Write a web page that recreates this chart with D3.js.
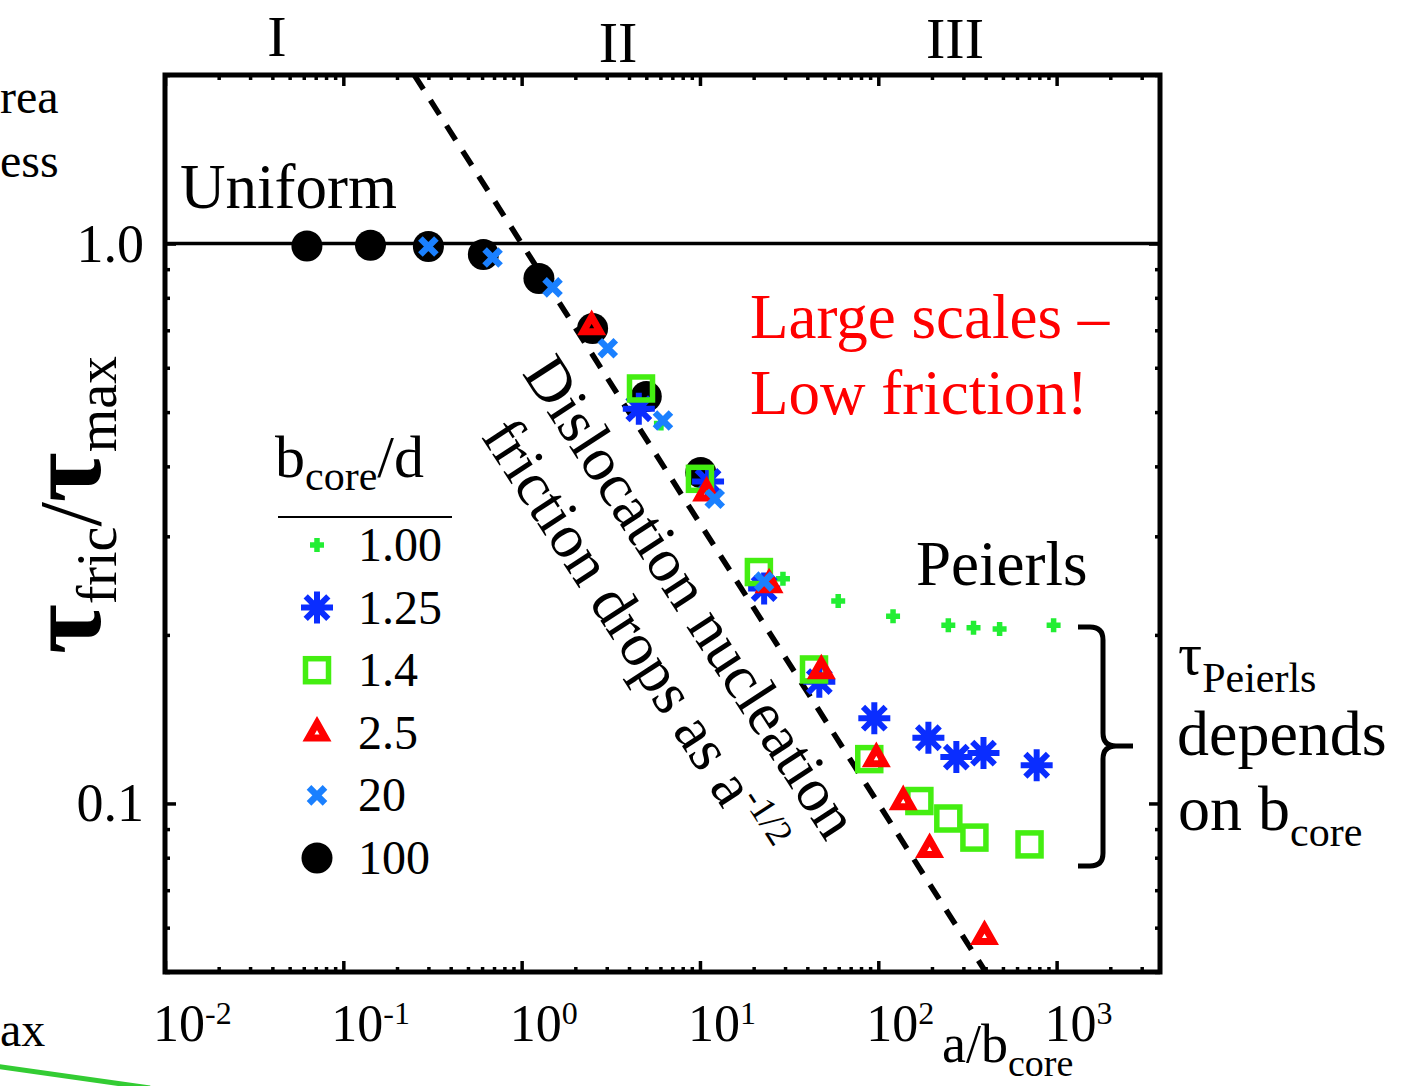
<!DOCTYPE html>
<html><head><meta charset="utf-8">
<script src="https://cdn.jsdelivr.net/npm/d3@7"></script>
<style>
body{margin:0;background:#fff}
svg{display:block}
text{font-family:"Liberation Serif","Times New Roman",serif;fill:#000}
</style>
</head><body>
<svg id="c" width="1403" height="1086"></svg>
<script>
// ---------- data ----------
const legendLabels = ["1.00", "1.25", "1.4", "2.5", "20", "100"];

const a_100 = [0.0625, 0.142, 0.30, 0.61, 1.25, 2.5, 5.0, 10.1];
const t_100 = [0.99, 0.993, 0.988, 0.956, 0.866, 0.705, 0.533, 0.390];

const a_20 = [0.30, 0.687, 1.49, 3.04, 6.2, 12.1, 22.9];
const t_20 = [0.988, 0.944, 0.835, 0.650, 0.483, 0.350, 0.249];

const a_100pct = [6.04, 29.2, 59.6, 121, 247, 342, 479, 962];        // b_core/d = 1.00
const t_100pct = [0.477, 0.252, 0.230, 0.216, 0.208, 0.206, 0.205, 0.208];

const a_125 = [4.54, 11.1, 22.9, 46.7, 95, 191, 274, 389, 773];
const t_125 = [0.507, 0.376, 0.242, 0.165, 0.142, 0.131, 0.121, 0.123, 0.117];

const a_14 = [4.67, 10, 21.4, 43.6, 89, 170, 247, 346, 705];
const t_14 = [0.551, 0.380, 0.259, 0.1735, 0.120, 0.101, 0.094, 0.0869, 0.0845];

const a_25 = [2.47, 10.9, 24.4, 47.9, 97.5, 138, 194, 394];
const t_25 = [0.711, 0.359, 0.246, 0.1727, 0.1203, 0.1008, 0.0828, 0.0579];

// guide lines
const guideA = [0.25, 400];      // dislocation nucleation, slope -1/2
const guideT = [2.0, 0.05];
const uniformLevel = 1.0;

// ticks
const xMajor = [0.01, 0.1, 1, 10, 100, 1000];
const xExp = ["-2", "-1", "0", "1", "2", "3"];
const yMajor = [1.0, 0.1];
const yMajorLabels = ["1.0", "0.1"];

// ---------- setup ----------
const svg = d3.select("#c");
svg.append("rect").attr("width",1403).attr("height",1086).attr("fill","#fff");

const L = 165, R = 1160, T = 75, B = 972;
const x = d3.scaleLog().domain([0.01, 3800]).range([L, R]);
const y = d3.scaleLog().domain([0.05, 2.0]).range([B, T]);

const COL = {plus:"#22ee33", ast:"#0a2dff", sq:"#44ee11", tri:"#ff0000", x:"#1a80ff", dot:"#000"};

// ---------- axes (inward ticks on all sides) ----------
const xMinor = x.ticks().filter(v => !xMajor.some(m => Math.abs(m - v) / m < 1e-6));
const yMinor = y.ticks().filter(v => !yMajor.some(m => Math.abs(m - v) / m < 1e-6));

function tickAxis(gen, tr, vals, size) {
  const g = svg.append("g").attr("transform", tr)
    .call(gen.tickValues(vals).tickSize(size).tickSizeOuter(0).tickFormat(""));
  g.select(".domain").remove();
  g.selectAll(".tick line").attr("stroke","#000").attr("stroke-width",3.5);
  return g;
}
tickAxis(d3.axisBottom(x), `translate(0,${B})`, xMinor, -5);
tickAxis(d3.axisBottom(x), `translate(0,${B})`, xMajor, -11);
tickAxis(d3.axisTop(x), `translate(0,${T})`, xMinor, -5);
tickAxis(d3.axisTop(x), `translate(0,${T})`, xMajor, -11);
tickAxis(d3.axisLeft(y), `translate(${L},0)`, yMinor, -5);
tickAxis(d3.axisLeft(y), `translate(${L},0)`, yMajor, -11);
tickAxis(d3.axisRight(y), `translate(${R},0)`, yMinor, -5);
tickAxis(d3.axisRight(y), `translate(${R},0)`, yMajor, -11);

// frame
svg.append("rect").attr("x",L).attr("y",T).attr("width",R-L).attr("height",B-T)
  .attr("fill","none").attr("stroke","#000").attr("stroke-width",5);

// x tick labels 10^n
xMajor.forEach((v,i) => {
  const t = svg.append("text").attr("x", x(v) - 12).attr("y", 1041)
    .attr("font-size", 52);
  t.append("tspan").text("10");
  t.append("tspan").attr("dy", -17).attr("font-size", 32).text(xExp[i]);
});
// x axis title
const xt = svg.append("text").attr("x", 942).attr("y", 1062).attr("font-size", 54);
xt.append("tspan").text("a/b");
xt.append("tspan").attr("dy", 14).attr("font-size", 38).text("core");

// y tick labels
yMajor.forEach((v,i) => {
  svg.append("text").attr("x", 144).attr("y", y(v) + 18)
    .attr("text-anchor","end").attr("font-size", 54).text(yMajorLabels[i]);
});

// y axis title
const yt = svg.append("text")
  .attr("transform","translate(100,505) rotate(-90)")
  .attr("text-anchor","middle");
yt.append("tspan").attr("font-size", 108).attr("font-weight","bold").text("τ");
yt.append("tspan").attr("font-size", 56).attr("dy", 16).text("fric");
yt.append("tspan").attr("font-size", 88).attr("dy", -16).text("/");
yt.append("tspan").attr("font-size", 108).attr("font-weight","bold").text("τ");
yt.append("tspan").attr("font-size", 56).attr("dy", 16).text("max");

// ---------- guide lines ----------
svg.append("line")
  .attr("x1", x(0.01)).attr("x2", x(3800))
  .attr("y1", y(uniformLevel)).attr("y2", y(uniformLevel))
  .attr("stroke","#000").attr("stroke-width",3.5);

svg.append("line")
  .attr("x1", x(guideA[0])).attr("y1", y(guideT[0]))
  .attr("x2", x(guideA[1])).attr("y2", y(guideT[1]))
  .attr("stroke","#000").attr("stroke-width",5.5)
  .attr("stroke-dasharray","17,13");

// ---------- marker shapes ----------
function drawMarker(g, kind, cx, cy) {
  if (kind === "dot") {
    g.append("circle").attr("cx",cx).attr("cy",cy).attr("r",15.5).attr("fill",COL.dot);
  } else if (kind === "plus") {
    const s = 7;
    g.append("path").attr("d",`M${cx-s},${cy}H${cx+s}M${cx},${cy-s}V${cy+s}`)
      .attr("stroke",COL.plus).attr("stroke-width",5.5).attr("fill","none");
  } else if (kind === "ast") {
    const s = 16, d = s*0.7071;
    g.append("path").attr("d",
      `M${cx-s},${cy}H${cx+s}M${cx},${cy-s}V${cy+s}M${cx-d},${cy-d}L${cx+d},${cy+d}M${cx-d},${cy+d}L${cx+d},${cy-d}`)
      .attr("stroke",COL.ast).attr("stroke-width",6).attr("fill","none");
  } else if (kind === "sq") {
    const s = 11.5;
    g.append("rect").attr("x",cx-s).attr("y",cy-s).attr("width",2*s).attr("height",2*s)
      .attr("stroke",COL.sq).attr("stroke-width",5.5).attr("fill","none");
  } else if (kind === "tri") {
    const h = 8.5;
    g.append("path").attr("d",`M${cx},${cy-h*1.15}L${cx+h},${cy+h*0.62}L${cx-h},${cy+h*0.62}Z`)
      .attr("stroke",COL.tri).attr("stroke-width",7).attr("stroke-linejoin","miter").attr("fill","none");
  } else if (kind === "x") {
    const s = 8;
    g.append("path").attr("d",`M${cx-s},${cy-s}L${cx+s},${cy+s}M${cx-s},${cy+s}L${cx+s},${cy-s}`)
      .attr("stroke",COL.x).attr("stroke-width",6.5).attr("fill","none");
  }
}

const series = [
  {kind:"dot",  a:a_100,    t:t_100},
  {kind:"plus", a:a_100pct, t:t_100pct},
  {kind:"ast",  a:a_125,    t:t_125},
  {kind:"sq",   a:a_14,     t:t_14},
  {kind:"tri",  a:a_25,     t:t_25},
  {kind:"x",    a:a_20,     t:t_20}
];
const gData = svg.append("g");
series.forEach(s => {
  const g = gData.append("g");
  s.a.forEach((a,i) => drawMarker(g, s.kind, x(a), y(s.t[i])));
});

// ---------- legend ----------
const legKinds = ["plus","ast","sq","tri","x","dot"];
const lt = svg.append("text").attr("x",275).attr("y",477).attr("font-size",60);
lt.append("tspan").text("b");
lt.append("tspan").attr("dy",13).attr("font-size",42).text("core");
lt.append("tspan").attr("dy",-13).text("/d");
svg.append("line").attr("x1",278).attr("x2",452).attr("y1",517).attr("y2",517)
  .attr("stroke","#000").attr("stroke-width",2);
const lg = svg.append("g");
legendLabels.forEach((lab,i) => {
  const cy = 545 + i*62.6;
  drawMarker(lg, legKinds[i], 317, cy);
  lg.append("text").attr("x",358).attr("y",cy+16).attr("font-size",48).text(lab);
});

// ---------- annotations ----------
const reg = [["I",277,56],["II",618,62],["III",955,58]];
reg.forEach(r => svg.append("text").attr("x",r[1]).attr("y",r[2])
  .attr("text-anchor","middle").attr("font-size",58).text(r[0]));

svg.append("text").attr("x",180).attr("y",208).attr("font-size",63).text("Uniform");
svg.append("text").attr("x",750).attr("y",338).attr("font-size",63).style("fill","#ff0000").text("Large scales –");
svg.append("text").attr("x",750).attr("y",414).attr("font-size",63).style("fill","#ff0000").text("Low friction!");
svg.append("text").attr("x",916).attr("y",585).attr("font-size",63).text("Peierls");

svg.append("text").attr("font-size",62).attr("text-anchor","middle")
  .attr("transform","translate(674,608) rotate(57)").text("Dislocation nucleation");
const fr = svg.append("text").attr("font-size",62).attr("text-anchor","middle")
  .attr("transform","translate(618,648) rotate(57)");
fr.append("tspan").text("friction drops as a");
fr.append("tspan").attr("dy",-22).attr("font-size",37).text("-1/2");

// bracket
svg.append("path")
  .attr("d","M1078,627H1090Q1103,627 1103,640V733Q1103,746 1116,746H1133M1116,746Q1103,746 1103,759V853Q1103,866 1090,866H1078")
  .attr("fill","none").attr("stroke","#000").attr("stroke-width",5);

const tp = svg.append("text").attr("x",1178).attr("y",674).attr("font-size",60);
tp.append("tspan").text("τ");
tp.append("tspan").attr("dy",18).attr("font-size",42).text("Peierls");
svg.append("text").attr("x",1177).attr("y",755).attr("font-size",64).text("depends");
const ob = svg.append("text").attr("x",1178).attr("y",830).attr("font-size",64);
ob.append("tspan").text("on b");
ob.append("tspan").attr("dy",16).attr("font-size",42).text("core");

// fragments of neighbouring slide content cut off at the left edge
svg.append("text").attr("x",0).attr("y",113).attr("font-size",48).text("rea");
svg.append("text").attr("x",0).attr("y",177).attr("font-size",48).text("ess");
svg.append("text").attr("x",0).attr("y",1046).attr("font-size",48).text("ax");
svg.append("line").attr("x1",-5).attr("y1",1066).attr("x2",150).attr("y2",1088)
  .attr("stroke","#33cc33").attr("stroke-width",5);
</script>
</body></html>
